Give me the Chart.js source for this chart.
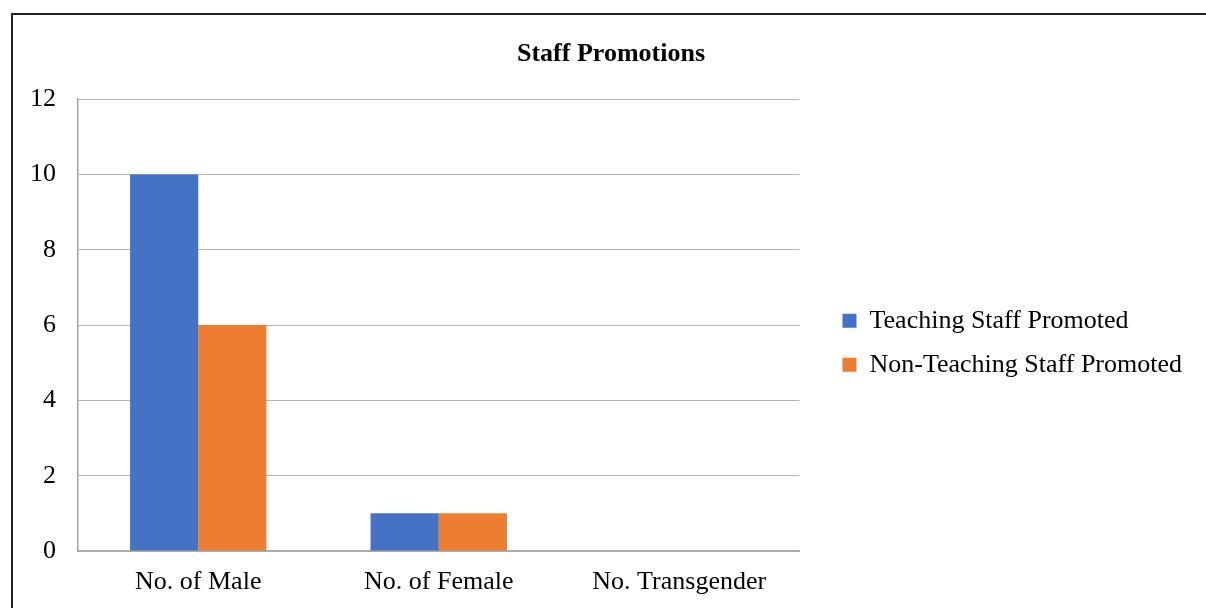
<!DOCTYPE html>
<html>
<head>
<meta charset="utf-8">
<style>
  html, body { margin: 0; padding: 0; background: #fff; }
  #wrap { width: 1206px; height: 608px; }
</style>
<script src="https://cdn.jsdelivr.net/npm/chart.js@4.4.0/dist/chart.umd.min.js"></script>
</head>
<body>
<div id="wrap"><canvas id="promoChart" width="1206" height="608"></canvas></div>
<script>
// data
const categories = ["No. of Male", "No. of Female", "No. Transgender"];
const teachingPromoted = [10, 1, 0];
const nonTeachingPromoted = [6, 1, 0];
const yTicks = [0, 2, 4, 6, 8, 10, 12];

const serif = "'Liberation Serif', 'Times New Roman', serif";

// outer frame of the figure (only left + top edges show in the crop)
const framePlugin = {
  id: "frame",
  beforeDraw(chart) {
    const c = chart.ctx;
    c.save();
    c.fillStyle = "#ffffff";
    c.fillRect(0, 0, chart.width, chart.height);
    c.strokeStyle = "#222222";
    c.lineWidth = 2;
    c.beginPath();
    c.moveTo(12, chart.height + 2);
    c.lineTo(12, 14);
    c.lineTo(chart.width + 2, 14);
    c.stroke();
    c.restore();
  },
};

function drawChart() {
  const ctx = document.getElementById("promoChart").getContext("2d");

  new Chart(ctx, {
    type: "bar",
    data: {
      labels: categories,
      datasets: [
        {
          label: "Teaching Staff Promoted",
          data: teachingPromoted,
          backgroundColor: "#4472c4",
          borderWidth: 0,
        },
        {
          label: "Non-Teaching Staff Promoted",
          data: nonTeachingPromoted,
          backgroundColor: "#ed7d31",
          borderWidth: 0,
        },
      ],
    },
    options: {
      responsive: false,
      animation: false,
      devicePixelRatio: 1,
      categoryPercentage: 0.567,
      barPercentage: 1.0,
      layout: {
        padding: { left: 30, top: 39, right: 14, bottom: 0 },
      },
      scales: {
        x: {
          afterFit: (axis) => {
            axis.height = 57;
          },
          grid: { display: false, drawTicks: false },
          border: { color: "#a6a6a6", width: 1.5 },
          ticks: {
            color: "#000",
            font: { family: serif, size: 26 },
            padding: 16,
          },
        },
        y: {
          min: 0,
          max: 12,
          afterBuildTicks: (axis) => {
            axis.ticks = yTicks.map((v) => ({ value: v }));
          },
          afterFit: (axis) => {
            axis.width = 48;
          },
          grid: { color: "#b4b4b4", lineWidth: 1, drawTicks: false },
          border: { color: "#a6a6a6", width: 1.5 },
          ticks: {
            color: "#000",
            font: { family: serif, size: 26 },
            padding: 22,
          },
        },
        // empty spacer between plot and legend
        gap: {
          position: "right",
          afterFit: (axis) => {
            axis.width = 25;
          },
          grid: { display: false, drawTicks: false },
          border: { display: false },
          ticks: { display: false },
        },
      },
      plugins: {
        title: {
          display: true,
          text: "Staff Promotions",
          color: "#000",
          font: { family: serif, size: 26, weight: "bold" },
          padding: { top: 0, bottom: 29 },
        },
        legend: {
          position: "right",
          maxWidth: 500,
          title: { display: true, text: " ", font: { size: 12 }, padding: 12 },
          labels: {
            color: "#000",
            font: { family: serif, size: 26 },
            boxWidth: 14,
            boxHeight: 14,
            padding: 18,
          },
        },
        tooltip: { enabled: false },
      },
    },
    plugins: [framePlugin],
  });
}

// wait for the local serif faces so text gets measured with the right font
Promise.all([
  document.fonts.load("26px 'Liberation Serif'"),
  document.fonts.load("bold 26px 'Liberation Serif'"),
]).then(drawChart, drawChart);
</script>
</body>
</html>
